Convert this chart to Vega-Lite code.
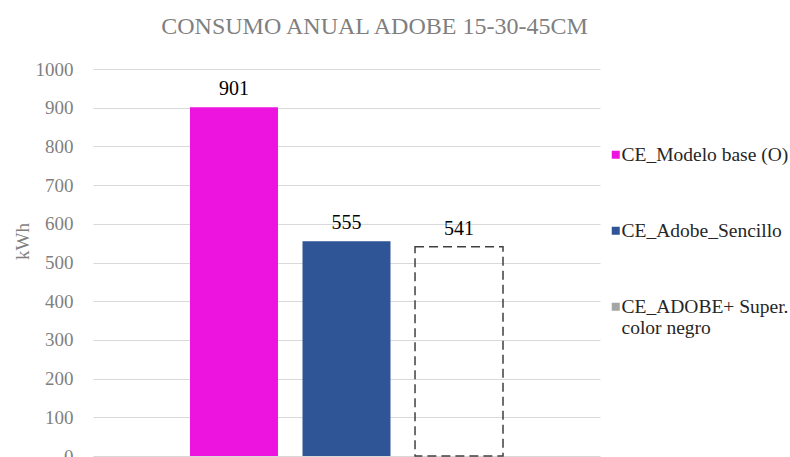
{
  "$schema": "https://vega.github.io/schema/vega-lite/v6.json",
  "width": 507,
  "height": 387,
  "autosize": {"type": "none"},
  "padding": {"left": 93, "top": 69, "right": 190, "bottom": 1},
  "background": "white",
  "config": {"font": "Liberation Serif", "view": {"stroke": null}},
  "title": {
    "text": "CONSUMO ANUAL ADOBE 15-30-45CM",
    "font": "Liberation Serif",
    "fontSize": 24,
    "fontWeight": "normal",
    "color": "#7F7F7F",
    "anchor": "middle",
    "dx": 28,
    "offset": 21
  },
  "data": {
    "values": [
      {"Serie": "CE_Modelo base (O)", "kWh": 901},
      {"Serie": "CE_Adobe_Sencillo", "kWh": 555},
      {"Serie": "CE_ADOBE+ Super. color negro", "kWh": 541}
    ]
  },
  "encoding": {
    "x": {
      "field": "Serie",
      "type": "nominal",
      "sort": null,
      "scale": {
        "domain": ["CE_Modelo base (O)", "CE_Adobe_Sencillo", "CE_ADOBE+ Super. color negro"],
        "paddingInner": 0.218,
        "paddingOuter": 0.862
      },
      "axis": null
    },
    "y": {
      "field": "kWh",
      "type": "quantitative",
      "scale": {"domain": [0, 1000], "nice": false},
      "axis": {
        "title": "kWh",
        "values": [0, 100, 200, 300, 400, 500, 600, 700, 800, 900, 1000],
        "format": "d",
        "domain": false,
        "ticks": false,
        "labelPadding": 20,
        "labelFont": "Liberation Serif",
        "labelFontSize": 19,
        "labelColor": "#7F7F7F",
        "gridColor": "#D9D9D9",
        "gridWidth": 1,
        "titleFont": "Liberation Serif",
        "titleFontSize": 19,
        "titleFontWeight": "normal",
        "titleColor": "#7F7F7F",
        "titleAngle": -90,
        "titleX": -71,
        "titleY": 172,
        "titleAlign": "center",
        "titleBaseline": "middle"
      }
    }
  },
  "layer": [
    {
      "transform": [{"filter": "datum.Serie != 'CE_ADOBE+ Super. color negro'"}],
      "mark": {"type": "bar"},
      "encoding": {
        "fill": {
          "field": "Serie",
          "type": "nominal",
          "sort": null,
          "scale": {
            "domain": ["CE_Modelo base (O)", "CE_Adobe_Sencillo", "CE_ADOBE+ Super. color negro"],
            "range": ["#EC14DE", "#2F5597", "#A5A5A5"]
          },
          "legend": {
            "title": null,
            "orient": "none",
            "legendX": 513,
            "legendY": 76,
            "symbolType": "square",
            "symbolSize": 64,
            "symbolStrokeWidth": 0,
            "labelFont": "Liberation Serif",
            "labelFontSize": 19.5,
            "labelColor": "#262626",
            "labelLimit": 220,
            "labelOffset": -4,
            "rowPadding": 55,
            "padding": 0,
            "labelExpr": "datum.label == 'CE_ADOBE+ Super. color negro' ? ['CE_ADOBE+ Super.', 'color negro'] : datum.label"
          }
        }
      }
    },
    {
      "transform": [{"filter": "datum.Serie == 'CE_ADOBE+ Super. color negro'"}],
      "mark": {
        "type": "bar",
        "fill": "transparent",
        "stroke": "#404040",
        "strokeWidth": 1.5,
        "strokeDash": [9, 5]
      }
    },
    {
      "mark": {
        "type": "text",
        "baseline": "alphabetic",
        "dy": -12,
        "font": "Liberation Serif",
        "fontSize": 20,
        "color": "#000000"
      },
      "encoding": {
        "text": {"field": "kWh", "type": "quantitative"}
      }
    }
  ]
}
